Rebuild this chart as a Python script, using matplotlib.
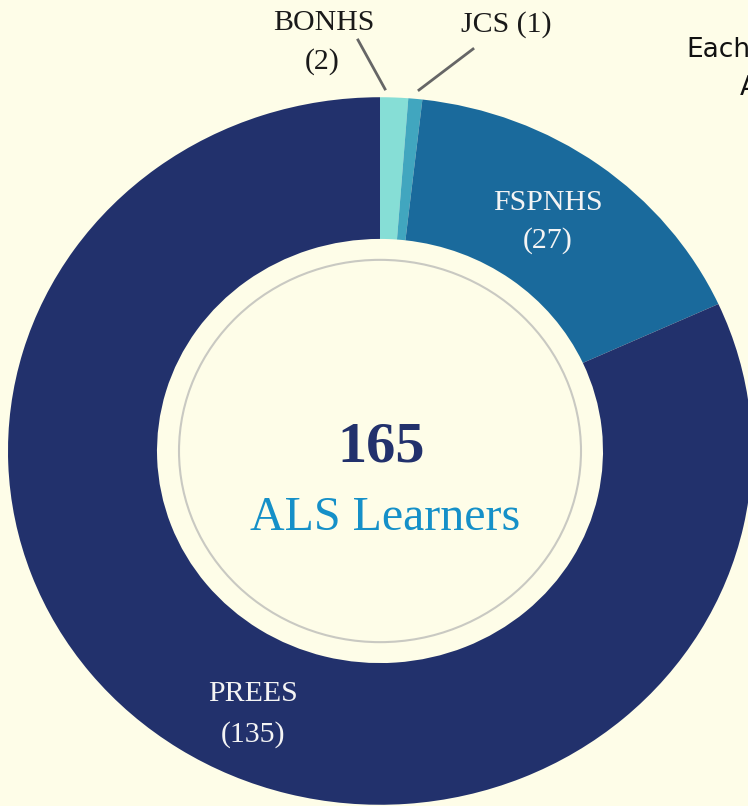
import matplotlib
matplotlib.use("Agg")
import matplotlib.pyplot as plt
from matplotlib.patches import Circle
from matplotlib.lines import Line2D

schools = ["BONHS", "JCS", "FSPNHS", "PREES"]
learners = [2, 1, 27, 135]
colors = ["#86DED6", "#41A6BF", "#1A6A9C", "#22316C"]
total_label = "ALS Learners"

BG = "#FEFDE8"
W, H = 748, 806
SY = 0.951  # vertical squash of the reference image
fig = plt.figure(figsize=(W / 100, H / 100), dpi=100, facecolor=BG)
ax = fig.add_axes([0, 0, 1, 1])
ax.set_facecolor(BG)

cx, cy = 380, (H - 451) / SY
R_out, R_in = 372, 223

ax.pie(learners, colors=colors, startangle=90, counterclock=False,
       radius=R_out, center=(cx, cy),
       wedgeprops=dict(width=R_out - R_in, linewidth=0))
ax.add_patch(Circle((cx, cy), 201, fill=False, edgecolor="#C9C9C2", linewidth=1.5))

ax.set_xlim(0, W)
ax.set_ylim(0, H / SY)
ax.set_aspect("auto")
ax.axis("off")

serif = ["Liberation Serif", "DejaVu Serif"]
fs = 21.5


def ptext(x, y, s, **kw):
    fig.text(x / W, 1 - y / H, s, ha="center", va="center", **kw)


def pline(x0, y0, x1, y1):
    fig.add_artist(Line2D([x0 / W, x1 / W], [1 - y0 / H, 1 - y1 / H],
                          transform=fig.transFigure, color="#666666", lw=2))


# center text
ptext(381, 448, str(sum(learners)), fontsize=42, fontweight="bold",
      color="#22316C", family=serif)
ptext(385, 518, total_label, fontsize=34.5, color="#1590C8", family=serif)

# inside labels
white = "#F4F4F4"
ptext(548, 203, schools[2], fontsize=fs, color=white, family=serif)
ptext(548, 241, f"({learners[2]})", fontsize=fs, color=white, family=serif)
ptext(253, 694, schools[3], fontsize=fs, color=white, family=serif)
ptext(253, 735, f"({learners[3]})", fontsize=fs, color=white, family=serif)

# outside labels with leaders
dark = "#1A1A1A"
ptext(324, 23, schools[0], fontsize=fs, color=dark, family=serif)
ptext(322, 62, f"({learners[0]})", fontsize=fs, color=dark, family=serif)
pline(358, 40, 385, 89)
ptext(506, 25, f"{schools[1]} ({learners[1]})", fontsize=fs, color=dark, family=serif)
pline(473, 49, 419, 90)

# clipped side note at the right edge
fig.text(686 / W, 1 - 50 / H, "Each", ha="left", va="center", fontsize=19,
         color="#111111", family=["DejaVu Sans"])
fig.text(740 / W, 1 - 88 / H, "A", ha="left", va="center", fontsize=19,
         color="#111111", family=["DejaVu Sans"])

fig.savefig("out.png", dpi=100, facecolor=BG)
